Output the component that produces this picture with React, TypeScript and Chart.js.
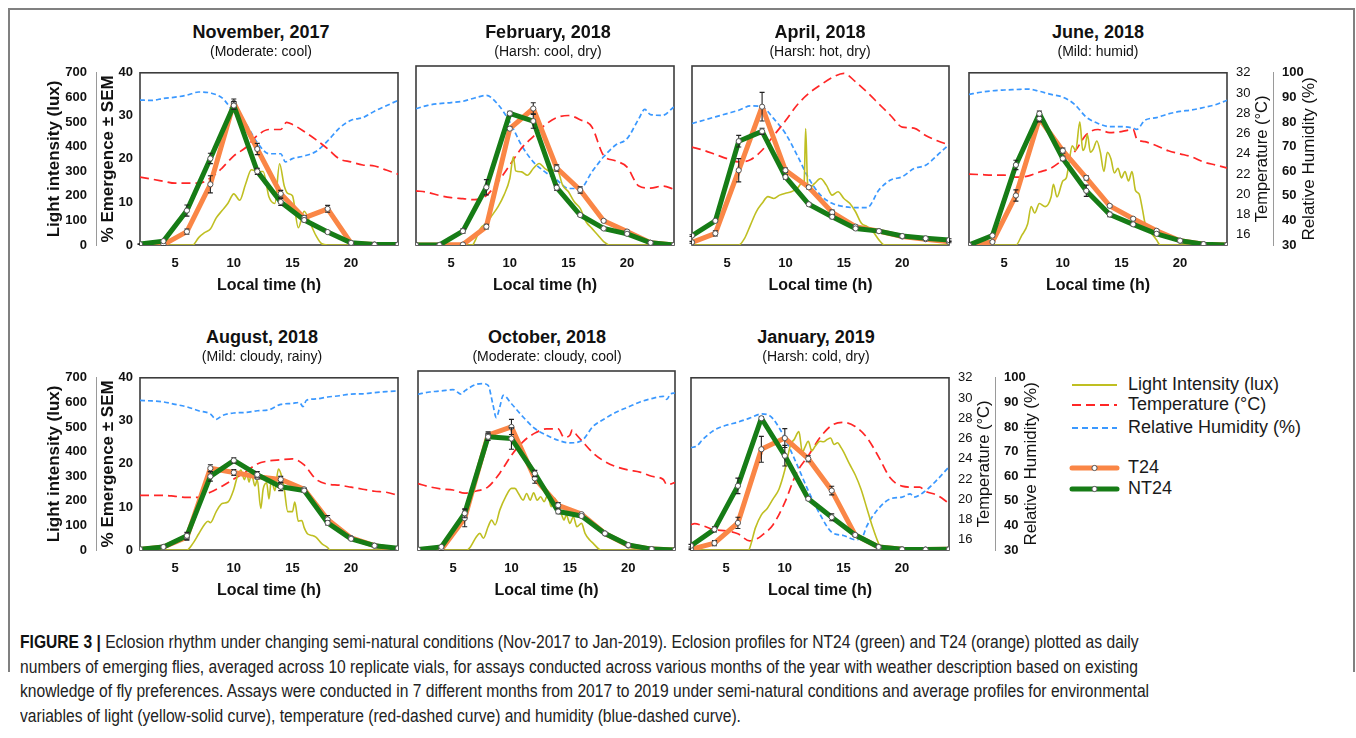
import React, { useEffect, useRef } from 'react';
import { Chart, registerables } from 'chart.js';

Chart.register(...registerables);

// ---------- shared axes values ----------
const EM_HOURS = [2, 4, 6, 8, 10, 12, 14, 16, 18, 20, 22, 24];
const HOURLY = [2, 3, 4, 5, 6, 7, 8, 9, 10, 11, 12, 13, 14, 15, 16, 17, 18, 19, 20, 21, 22, 23, 24];
const X_TICKS = [5, 10, 15, 20];
const TEMP_TICKS = [16, 18, 20, 22, 24, 26, 28, 30, 32];

// ---------- November 2017 ----------
const NOV17_T24 = [0, 0.1, 3.1, 14.1, 33.0, 22.3, 11.9, 6.3, 8.4, 0.4, 0.1, 0.1];
const NOV17_T24_SEM = [0, 0.2, 0.6, 2.0, 0.9, 1.3, 0.8, 0.5, 0.8, 0.2, 0, 0];
const NOV17_NT24 = [0.2, 0.9, 8.0, 20.1, 32.4, 17.1, 10.0, 5.8, 3.0, 0.5, 0.1, 0.1];
const NOV17_NT24_SEM = [0.1, 0.2, 1.3, 1.2, 0.9, 0.7, 0.8, 0.4, 0.2, 0.1, 0, 0];
const NOV17_LIGHT_H = [2, 6.5, 7, 7.5, 8, 8.5, 9, 9.5, 10, 10.5, 11, 11.5, 12, 12.5, 13, 13.5, 13.9, 14.3, 14.6, 15, 15.5, 16, 16.5, 17, 17.5, 18, 24];
const NOV17_LIGHT = [0, 0, 30, 50, 65, 110, 140, 170, 208, 182, 247, 306, 299, 299, 195, 169, 330, 240, 210, 200, 70, 137, 90, 39, 5, 0, 0];
const NOV17_TEMP_H = [2, 3, 4, 5, 6, 7, 8, 9, 10, 11, 12, 13, 14, 14.5, 15, 16, 17, 18, 19, 20, 21, 22, 23, 24];
const NOV17_TEMP = [21.7, 21.5, 21.3, 21.1, 21.1, 21.1, 21.6, 22.6, 23.8, 24.6, 25.8, 26.4, 26.4, 27.1, 26.9, 26.2, 25.4, 24.5, 23.5, 23.2, 22.9, 22.8, 22.4, 22.0];
const NOV17_RH_H = [2, 3, 4, 5, 6, 7, 8, 9, 10, 11, 12, 13, 14, 14.4, 15, 16, 17, 18, 19, 20, 21, 22, 23, 24];
const NOV17_RH = [88.9, 88.8, 89.6, 90.1, 90.9, 92.2, 91.8, 89.8, 84.0, 79.4, 71.6, 67.1, 67.1, 63.8, 65.1, 66.2, 68.0, 72.3, 77.5, 80.7, 81.8, 84.4, 86.6, 88.8];

// ---------- February 2018 ----------
const FEB18_T24 = [0, 0, 0.1, 4.1, 26.0, 30.5, 17.2, 12.3, 5.4, 3.0, 0.5, 0];
const FEB18_T24_SEM = [0, 0, 0.1, 0.5, 0.4, 1.3, 0.7, 0.7, 0.3, 0.3, 0.1, 0];
const FEB18_NT24 = [0, 0, 3.1, 12.9, 29.4, 27.7, 12.8, 6.7, 3.7, 2.5, 0.5, 0];
const FEB18_NT24_SEM = [0, 0, 0.5, 1.7, 0.5, 1.6, 0.6, 0.3, 0.2, 0.3, 0.1, 0];
const FEB18_LIGHT_H = [2, 6.8, 7, 7.5, 8, 8.5, 9, 9.5, 10, 10.3, 10.5, 11, 11.5, 12, 12.5, 13, 13.5, 14, 14.5, 15, 15.5, 16, 16.5, 17, 17.5, 18, 18.5, 24];
const FEB18_LIGHT = [0, 0, 13, 65, 85, 117, 150, 195, 260, 345, 290, 286, 273, 299, 319, 299, 286, 299, 234, 208, 169, 143, 91, 65, 39, 13, 0, 0];
const FEB18_TEMP = [20.15, 20.0, 19.7, 19.5, 19.4, 19.3, 19.7, 21.0, 22.6, 24.2, 25.3, 26.4, 27.1, 27.3, 26.9, 26.2, 23.5, 23.0, 22.4, 20.6, 20.4, 20.6, 20.3];
const FEB18_RH_H = [2, 3, 4, 5, 6, 7, 8, 9, 10, 11, 12, 13, 14, 15, 16, 17, 18, 19, 20, 21, 21.5, 22, 23, 24];
const FEB18_RH = [83.3, 84.6, 85.3, 85.7, 86.2, 87.5, 88.5, 84.9, 78.1, 69.0, 62.5, 58.6, 55.4, 52.1, 52.1, 58.6, 64.5, 69.0, 71.6, 79.4, 83.0, 81.0, 80.7, 84.0];

// ---------- April 2018 ----------
const APR18_T24 = [0.6, 2.6, 16.7, 30.9, 16.7, 12.9, 7.3, 4.1, 3.1, 1.9, 1.3, 0.7];
const APR18_T24_SEM = [0.2, 0.6, 2.6, 3.2, 0.5, 0.4, 0.5, 0.3, 0.3, 0.3, 0.2, 0.2];
const APR18_NT24 = [2.1, 5.4, 23.2, 25.4, 15.2, 9.1, 6.3, 3.7, 3.1, 2.0, 1.5, 1.1];
const APR18_NT24_SEM = [0.2, 0.2, 1.3, 0.7, 0.5, 0.3, 0.4, 0.3, 0.3, 0.3, 0.3, 0.3];
const APR18_LIGHT_H = [2, 6, 6.5, 7, 7.5, 8, 8.5, 9, 9.5, 10, 10.5, 11, 11.5, 11.6, 11.73, 11.88, 12, 12.5, 13, 13.5, 14, 14.5, 15, 15.5, 16, 16.5, 17, 17.5, 18, 18.5, 24];
const APR18_LIGHT = [0, 0, 26, 78, 130, 163, 189, 182, 195, 202, 208, 221, 247, 250, 455, 250, 221, 241, 260, 234, 195, 208, 182, 163, 130, 85, 72, 52, 20, 0, 0];
const APR18_TEMP = [24.3, 24.0, 23.6, 23.2, 22.9, 23.1, 24.0, 25.4, 26.8, 28.3, 29.4, 30.2, 30.9, 31.3, 30.5, 29.5, 28.4, 27.3, 26.2, 26.1, 25.4, 24.9, 24.5];
const APR18_RH = [77.5, 78.8, 80.1, 81.4, 82.7, 84.4, 84.0, 79.4, 73.6, 65.1, 56.0, 49.5, 46.3, 45.0, 44.6, 44.6, 51.5, 55.4, 56.7, 59.9, 61.2, 65.1, 69.3];

// ---------- June 2018 ----------
const JUN18_T24 = [0, 0.7, 11.5, 29.4, 21.9, 15.6, 9.1, 6.1, 3.3, 1.0, 0.2, 0];
const JUN18_T24_SEM = [0, 0.3, 1.3, 0.8, 0.6, 0.5, 0.3, 0.3, 0.3, 0.1, 0, 0];
const JUN18_NT24 = [0, 2.2, 18.6, 30.5, 20.1, 12.6, 7.1, 4.8, 2.6, 1.0, 0.2, 0];
const JUN18_NT24_SEM = [0, 0.3, 1.1, 0.6, 0.5, 1.3, 0.5, 0.3, 0.3, 0.1, 0, 0];
const JUN18_LIGHT_H = [2, 6, 6.5, 7, 7.3, 7.6, 8, 8.5, 9, 9.2, 9.5, 10, 10.3, 10.5, 10.8, 11.1, 11.45, 11.7, 11.9, 12.1, 12.35, 12.6, 12.9, 13.2, 13.5, 13.8, 14.1, 14.4, 14.7, 15, 15.3, 15.6, 15.9, 16.2, 16.5, 16.8, 17, 17.5, 18, 18.3, 24];
const JUN18_LIGHT = [0, 0, 39, 85, 156, 130, 169, 156, 195, 247, 195, 260, 273, 325, 403, 384, 501, 384, 400, 449, 377, 390, 423, 377, 299, 377, 351, 293, 312, 273, 299, 260, 299, 221, 208, 143, 91, 52, 20, 0, 0];
const JUN18_TEMP_H = [2, 3, 4, 5, 6, 7, 8, 9, 10, 11, 12, 13, 14, 15, 16, 16.3, 17, 18, 19, 20, 21, 22, 23, 24];
const JUN18_TEMP = [22.0, 21.95, 21.9, 21.9, 21.7, 21.8, 22.2, 22.6, 23.4, 24.2, 25.9, 26.4, 26.1, 26.2, 26.4, 25.5, 25.2, 24.8, 24.3, 24.0, 23.7, 23.2, 22.9, 22.6];
const JUN18_RH_H = [2, 3, 4, 5, 6, 7, 8, 9, 10, 11, 12, 13, 14, 15, 16, 16.3, 17, 18, 19, 20, 21, 22, 23, 24];
const JUN18_RH = [91.2, 92.1, 92.7, 93.0, 93.2, 93.4, 92.5, 91.2, 90.1, 87.2, 82.0, 79.4, 78.1, 78.1, 77.5, 77.0, 80.7, 81.8, 83.3, 84.3, 84.9, 85.9, 87.0, 88.8];

// ---------- August 2018 ----------
const AUG18_T24 = [0.1, 0.7, 3.0, 19.0, 18.0, 17.0, 16.4, 14.1, 7.1, 2.8, 1.0, 0.1];
const AUG18_T24_SEM = [0, 0.1, 0.7, 0.8, 0.7, 0.5, 0.7, 0.3, 0.9, 0.2, 0.1, 0];
const AUG18_NT24 = [0.2, 0.7, 3.3, 17.1, 20.8, 17.5, 14.7, 13.8, 6.3, 2.6, 1.0, 0.4];
const AUG18_NT24_SEM = [0, 0.1, 0.8, 1.1, 0.6, 0.7, 0.9, 0.4, 0.5, 0.2, 0.1, 0];
const AUG18_LIGHT_H = [2, 6, 6.5, 7, 7.5, 7.8, 8, 8.5, 9, 9.5, 10, 10.3, 10.6, 10.9, 11.1, 11.3, 11.5, 11.8, 12, 12.3, 12.5, 12.8, 13, 13.2, 13.5, 13.8, 14, 14.3, 14.6, 15, 15.2, 15.5, 15.8, 16, 16.3, 16.7, 17, 17.5, 18, 18.2, 24];
const AUG18_LIGHT = [0, 0, 26, 65, 104, 117, 111, 156, 189, 195, 247, 299, 325, 286, 312, 276, 312, 260, 286, 169, 247, 273, 208, 286, 241, 329, 312, 247, 156, 156, 195, 117, 120, 91, 65, 59, 52, 26, 10, 0, 0];
const AUG18_TEMP = [20.4, 20.4, 20.4, 20.3, 20.2, 20.2, 20.7, 21.3, 22.0, 22.7, 23.5, 23.8, 23.9, 24.0, 23.4, 22.0, 21.5, 21.4, 21.2, 21.0, 20.8, 20.7, 20.4];
const AUG18_RH_H = [2, 3, 4, 5, 6, 7, 8, 8.5, 9, 10, 11, 12, 13, 14, 15, 15.6, 15.9, 16.2, 17, 18, 19, 20, 21, 22, 23, 24];
const AUG18_RH = [90.8, 90.6, 90.2, 89.2, 88.2, 86.6, 85.3, 83.1, 84.6, 85.7, 85.9, 86.6, 87.0, 89.2, 89.6, 90.0, 88.3, 90.9, 91.4, 92.2, 92.7, 93.4, 93.5, 94.0, 94.4, 94.7];

// ---------- October 2018 ----------
const OCT18_T24 = [0, 0.1, 7.1, 25.7, 27.5, 16.0, 10.0, 8.0, 3.7, 1.0, 0.2, 0];
const OCT18_T24_SEM = [0, 0.1, 1.9, 0.7, 1.7, 1.1, 0.6, 0.3, 0.2, 0.1, 0, 0];
const OCT18_NT24 = [0.1, 0.7, 8.2, 25.3, 24.9, 17.1, 8.6, 7.6, 3.7, 1.1, 0.2, 0];
const OCT18_NT24_SEM = [0, 0.1, 1.0, 0.8, 2.4, 0.7, 0.5, 0.3, 0.2, 0.1, 0, 0];
const OCT18_LIGHT_H = [2, 6.2, 6.5, 7, 7.3, 7.6, 8, 8.3, 8.6, 9, 9.5, 10, 10.3, 10.6, 11, 11.3, 11.6, 11.9, 12.2, 12.5, 12.8, 13.1, 13.4, 13.7, 14, 14.3, 14.5, 14.7, 15, 15.3, 15.6, 16, 16.3, 16.7, 17, 17.5, 17.7, 24];
const OCT18_LIGHT = [0, 0, 13, 52, 65, 46, 91, 117, 98, 156, 208, 241, 241, 221, 195, 221, 195, 224, 195, 208, 189, 215, 169, 202, 169, 137, 117, 137, 104, 130, 91, 104, 65, 39, 26, 3, 0, 0];
const OCT18_TEMP_H = [2, 3, 4, 5, 6, 7, 8, 9, 10, 11, 12, 13, 14, 14.5, 15, 15.2, 15.6, 16, 17, 18, 19, 20, 21, 22, 23, 23.3, 24];
const OCT18_TEMP = [21.3, 21.0, 20.8, 20.7, 20.4, 20.6, 21.0, 22.3, 24.0, 25.3, 26.1, 26.5, 26.5, 25.7, 25.9, 26.4, 25.9, 25.4, 24.2, 23.4, 22.9, 22.6, 22.4, 22.0, 21.7, 21.2, 21.4];
const OCT18_RH_H = [2, 3, 4, 5, 5.7, 6, 7, 7.5, 8, 8.4, 8.7, 9, 9.3, 10, 11, 12, 13, 14, 15, 16, 17, 18, 19, 20, 21, 22, 23, 23.3, 23.6, 24];
const OCT18_RH = [90.9, 91.8, 92.2, 92.7, 90.9, 92.2, 94.8, 95.1, 94.4, 87.2, 81.8, 85.9, 90.5, 87.2, 82.0, 77.5, 74.9, 72.9, 71.9, 72.7, 78.4, 81.4, 84.0, 85.9, 87.9, 89.2, 90.1, 88.9, 91.0, 91.4];

// ---------- January 2019 ----------
const JAN19_T24 = [0.15, 1.6, 6.3, 23.4, 26.0, 21.2, 13.8, 3.5, 0.7, 0.15, 0.1, 0.15];
const JAN19_T24_SEM = [0.1, 0.6, 1.3, 3.0, 2.2, 0.7, 1.0, 0.3, 0.1, 0, 0, 0];
const JAN19_NT24 = [1.0, 4.8, 14.9, 30.6, 21.9, 11.9, 7.6, 3.5, 0.7, 0.15, 0.1, 0.15];
const JAN19_NT24_SEM = [0.3, 0.6, 1.8, 0.4, 2.4, 0.4, 0.8, 0.3, 0.1, 0, 0, 0];
const JAN19_LIGHT_H = [2, 6.9, 7, 7.5, 8, 8.5, 9, 9.5, 10, 10.5, 10.8, 11.2, 11.5, 11.7, 12, 12.3, 12.6, 13, 13.3, 13.6, 13.9, 14.2, 14.5, 14.8, 15, 15.5, 16, 16.5, 17, 17.5, 18, 18.3, 24];
const JAN19_LIGHT = [0, 0, 7, 91, 143, 169, 208, 247, 325, 429, 449, 481, 397, 416, 442, 403, 423, 442, 440, 449, 455, 429, 436, 416, 400, 351, 306, 247, 169, 91, 26, 0, 0];
const JAN19_TEMP_H = [2, 2.3, 3, 4, 5, 6, 7, 7.6, 8, 9, 10, 11, 12, 13, 14, 15, 16, 17, 18, 19, 20, 21, 21.5, 22, 23, 24];
const JAN19_TEMP = [17.5, 17.6, 17.4, 17.0, 16.9, 16.6, 15.9, 16.1, 16.4, 17.5, 19.7, 22.6, 24.3, 26.1, 27.3, 27.6, 27.2, 26.1, 24.2, 22.1, 21.3, 21.2, 21.2, 20.8, 20.4, 19.6];
const JAN19_RH_H = [2, 2.5, 3, 4, 5, 6, 7, 8, 8.6, 9, 10, 11, 12, 13, 14, 15, 16, 16.6, 17, 18, 19, 20, 20.7, 21, 22, 23, 24];
const JAN19_RH = [71.6, 72.3, 74.9, 78.8, 80.7, 82.0, 83.6, 85.3, 84.9, 83.3, 75.5, 65.1, 54.1, 44.5, 37.2, 35.9, 34.2, 35.2, 39.8, 46.9, 50.8, 51.5, 52.8, 51.5, 54.1, 58.6, 63.8];

// ---------- styling ----------
const FONT = 'Arial, "Liberation Sans", Helvetica, sans-serif';
const ORANGE = '#FA8646';
const GREEN = '#167C16';
const YELLOW = '#BFBF22';
const RED = '#FF2626';
const BLUE = '#3A98FF';
const TEXT = '#111111';

const PLOT_H = 179;
const PAD = 10;
const X_AXIS_H = 51;
const LUX_W = 52;
const EM_W = 44;
const TEMP_W = 46;
const RH_W = 52;

type Panel = {
  title: string;
  subtitle: string;
  t24: number[]; t24Sem: number[]; nt24: number[]; nt24Sem: number[];
  lightH: number[]; light: number[];
  tempH: number[]; temp: number[];
  rhH: number[]; rh: number[];
  plotLeft: number; plotTop: number; plotW: number;
  titleX: number; titleY: number;
  showLeft: boolean; showRight: boolean;
};

const PANELS: Panel[] = [
  { title: 'November, 2017', subtitle: '(Moderate: cool)', t24: NOV17_T24, t24Sem: NOV17_T24_SEM, nt24: NOV17_NT24, nt24Sem: NOV17_NT24_SEM,
    lightH: NOV17_LIGHT_H, light: NOV17_LIGHT, tempH: NOV17_TEMP_H, temp: NOV17_TEMP, rhH: NOV17_RH_H, rh: NOV17_RH,
    plotLeft: 140, plotTop: 66, plotW: 258, titleX: 261, titleY: 32, showLeft: true, showRight: false },
  { title: 'February, 2018', subtitle: '(Harsh: cool, dry)', t24: FEB18_T24, t24Sem: FEB18_T24_SEM, nt24: FEB18_NT24, nt24Sem: FEB18_NT24_SEM,
    lightH: FEB18_LIGHT_H, light: FEB18_LIGHT, tempH: HOURLY, temp: FEB18_TEMP, rhH: FEB18_RH_H, rh: FEB18_RH,
    plotLeft: 416, plotTop: 66, plotW: 258, titleX: 548, titleY: 32, showLeft: false, showRight: false },
  { title: 'April, 2018', subtitle: '(Harsh: hot, dry)', t24: APR18_T24, t24Sem: APR18_T24_SEM, nt24: APR18_NT24, nt24Sem: APR18_NT24_SEM,
    lightH: APR18_LIGHT_H, light: APR18_LIGHT, tempH: HOURLY, temp: APR18_TEMP, rhH: HOURLY, rh: APR18_RH,
    plotLeft: 692, plotTop: 66, plotW: 257, titleX: 820, titleY: 32, showLeft: false, showRight: false },
  { title: 'June, 2018', subtitle: '(Mild: humid)', t24: JUN18_T24, t24Sem: JUN18_T24_SEM, nt24: JUN18_NT24, nt24Sem: JUN18_NT24_SEM,
    lightH: JUN18_LIGHT_H, light: JUN18_LIGHT, tempH: JUN18_TEMP_H, temp: JUN18_TEMP, rhH: JUN18_RH_H, rh: JUN18_RH,
    plotLeft: 969, plotTop: 66, plotW: 258, titleX: 1098, titleY: 32, showLeft: false, showRight: true },
  { title: 'August, 2018', subtitle: '(Mild: cloudy, rainy)', t24: AUG18_T24, t24Sem: AUG18_T24_SEM, nt24: AUG18_NT24, nt24Sem: AUG18_NT24_SEM,
    lightH: AUG18_LIGHT_H, light: AUG18_LIGHT, tempH: HOURLY, temp: AUG18_TEMP, rhH: AUG18_RH_H, rh: AUG18_RH,
    plotLeft: 140, plotTop: 371, plotW: 258, titleX: 262, titleY: 337, showLeft: true, showRight: false },
  { title: 'October, 2018', subtitle: '(Moderate: cloudy, cool)', t24: OCT18_T24, t24Sem: OCT18_T24_SEM, nt24: OCT18_NT24, nt24Sem: OCT18_NT24_SEM,
    lightH: OCT18_LIGHT_H, light: OCT18_LIGHT, tempH: OCT18_TEMP_H, temp: OCT18_TEMP, rhH: OCT18_RH_H, rh: OCT18_RH,
    plotLeft: 418, plotTop: 371, plotW: 257, titleX: 547, titleY: 337, showLeft: false, showRight: false },
  { title: 'January, 2019', subtitle: '(Harsh: cold, dry)', t24: JAN19_T24, t24Sem: JAN19_T24_SEM, nt24: JAN19_NT24, nt24Sem: JAN19_NT24_SEM,
    lightH: JAN19_LIGHT_H, light: JAN19_LIGHT, tempH: JAN19_TEMP_H, temp: JAN19_TEMP, rhH: JAN19_RH_H, rh: JAN19_RH,
    plotLeft: 691, plotTop: 371, plotW: 258, titleX: 816, titleY: 337, showLeft: false, showRight: true },
];

const pts = (xs: number[], ys: number[]) => xs.map((x, i) => ({ x, y: ys[i] }));

// ---------- plugins ----------
const errorBarPlugin = {
  id: 'errorBars',
  beforeDatasetDraw(chart: any, args: any) {
    const ds = chart.data.datasets[args.index];
    if (!ds.errorBars) return;
    const meta = args.meta;
    const yScale = chart.scales[ds.yAxisID];
    const ctx = chart.ctx;
    ctx.save();
    ctx.strokeStyle = '#222';
    ctx.lineWidth = 1.1;
    ds.data.forEach((p: any, i: number) => {
      const sem = ds.errorBars[i];
      if (!sem) return;
      const x = meta.data[i].x;
      const y1 = yScale.getPixelForValue(p.y + sem);
      const y2 = yScale.getPixelForValue(Math.max(p.y - sem, 0));
      ctx.beginPath();
      ctx.moveTo(x, y1); ctx.lineTo(x, y2);
      ctx.moveTo(x - 2.5, y1); ctx.lineTo(x + 2.5, y1);
      ctx.moveTo(x - 2.5, y2); ctx.lineTo(x + 2.5, y2);
      ctx.stroke();
    });
    ctx.restore();
  },
};

const framePlugin = {
  id: 'plotFrame',
  beforeDatasetsDraw(chart: any) {
    const { ctx, chartArea: a } = chart;
    ctx.save();
    ctx.strokeStyle = '#3c3c3c';
    ctx.lineWidth = 1.6;
    ctx.strokeRect(a.left, a.top, a.right - a.left, a.bottom - a.top);
    ctx.restore();
  },
};

const rightTitlePlugin = {
  id: 'rightTitles',
  afterDraw(chart: any, _args: any, opts: any) {
    const items = (opts && opts.items) || [];
    const ctx = chart.ctx;
    const a = chart.chartArea;
    for (const it of items) {
      const s = chart.scales[it.axis];
      if (!s) continue;
      ctx.save();
      ctx.translate(s.left + it.offset, (a.top + a.bottom) / 2);
      ctx.rotate(-Math.PI / 2);
      ctx.font = `${it.size}px ${FONT}`;
      ctx.fillStyle = TEXT;
      ctx.textAlign = 'center';
      ctx.textBaseline = 'middle';
      ctx.fillText(it.text, 0, 0);
      ctx.restore();
    }
  },
};

const fixWidth = (w: number) => (s: any) => { s.width = s.options.display ? w : 0; };

function buildConfig(p: Panel): any {
  const tickFont = { family: FONT, size: 13, weight: 'bold' as const };
  return {
    type: 'line',
    data: {
      datasets: [
        { label: 'NT24 points', data: pts(EM_HOURS, p.nt24), errorBars: p.nt24Sem, yAxisID: 'yEm', showLine: false,
          pointRadius: 2.6, pointBackgroundColor: '#ffffff', pointBorderColor: '#555', pointBorderWidth: 1, order: -2 },
        { label: 'T24 points', data: pts(EM_HOURS, p.t24), errorBars: p.t24Sem, yAxisID: 'yEm', showLine: false,
          pointRadius: 2.6, pointBackgroundColor: '#ffffff', pointBorderColor: '#555', pointBorderWidth: 1, order: -1 },
        { label: 'NT24', data: pts(EM_HOURS, p.nt24), yAxisID: 'yEm', borderColor: GREEN, borderWidth: 5,
          borderJoinStyle: 'round', pointRadius: 0, tension: 0, order: 0 },
        { label: 'T24', data: pts(EM_HOURS, p.t24), yAxisID: 'yEm', borderColor: ORANGE, borderWidth: 5,
          borderJoinStyle: 'round', pointRadius: 0, tension: 0, order: 1 },
        { label: 'Light Intensity (lux)', data: pts(p.lightH, p.light), yAxisID: 'yLux', borderColor: YELLOW, borderWidth: 1.6,
          pointRadius: 0, cubicInterpolationMode: 'monotone', order: 2 },
        { label: 'Temperature (°C)', data: pts(p.tempH, p.temp), yAxisID: 'yTemp', borderColor: RED, borderWidth: 1.7,
          borderDash: [9, 5], pointRadius: 0, cubicInterpolationMode: 'monotone', order: 3 },
        { label: 'Relative Humidity (%)', data: pts(p.rhH, p.rh), yAxisID: 'yRH', borderColor: BLUE, borderWidth: 1.7,
          borderDash: [5, 3], pointRadius: 0, cubicInterpolationMode: 'monotone', order: 4 },
      ],
    },
    options: {
      animation: false,
      responsive: false,
      maintainAspectRatio: false,
      events: [],
      layout: { padding: { left: p.showLeft ? 0 : PAD, right: p.showRight ? 0 : PAD, top: PAD, bottom: 0 } },
      plugins: {
        legend: { display: false },
        tooltip: { enabled: false },
        rightTitles: {
          items: p.showRight ? [
            { axis: 'yTemp', text: 'Temperature (°C)', offset: 35, size: 16.5 },
            { axis: 'yRH', text: 'Relative Humidity (%)', offset: 36, size: 17 },
          ] : [],
        },
      },
      scales: {
        x: {
          type: 'linear', position: 'bottom', min: 2, max: 24,
          afterBuildTicks: (s: any) => { s.ticks = X_TICKS.map((v) => ({ value: v })); },
          afterFit: (s: any) => { s.height = X_AXIS_H; },
          grid: { display: false, drawTicks: false },
          border: { display: false },
          ticks: { font: tickFont, color: TEXT, padding: 11, maxRotation: 0, autoSkip: false },
          title: { display: true, text: 'Local time (h)', color: TEXT, font: { family: FONT, size: 16, weight: 'bold' }, padding: { top: 0, bottom: 1 } },
        },
        yEm: {
          type: 'linear', position: 'left', weight: 0, min: 0, max: 40, display: p.showLeft,
          afterFit: fixWidth(EM_W),
          grid: { display: false, drawTicks: false },
          border: { display: false },
          ticks: { stepSize: 10, font: tickFont, color: TEXT, padding: 7 },
          title: { display: true, text: '% Emergence ± SEM', color: TEXT, font: { family: FONT, size: 17, weight: 'bold' }, padding: { top: 2, bottom: 0 } },
        },
        yLux: {
          type: 'linear', position: 'left', weight: 1, min: 0, max: 700, display: p.showLeft,
          afterFit: fixWidth(LUX_W),
          grid: { display: false, drawTicks: false },
          border: { display: true, color: '#9a9a9a', width: 1 },
          ticks: { stepSize: 100, font: tickFont, color: TEXT, padding: 9 },
          title: { display: true, text: 'Light intensity (lux)', color: TEXT, font: { family: FONT, size: 17, weight: 'bold' }, padding: { top: 0, bottom: 0 } },
        },
        yTemp: {
          type: 'linear', position: 'right', weight: 0, min: 15, max: 32, display: p.showRight,
          afterBuildTicks: (s: any) => { s.ticks = TEMP_TICKS.map((v) => ({ value: v })); },
          afterFit: fixWidth(TEMP_W),
          grid: { display: false, drawTicks: false },
          border: { display: false },
          ticks: { font: { family: FONT, size: 13 }, color: TEXT, padding: 9 },
        },
        yRH: {
          type: 'linear', position: 'right', weight: 1, min: 30, max: 100, display: p.showRight,
          afterFit: fixWidth(RH_W),
          grid: { display: false, drawTicks: false },
          border: { display: true, color: '#9a9a9a', width: 1 },
          ticks: { stepSize: 10, font: tickFont, color: TEXT, padding: 9 },
        },
      },
    },
    plugins: [framePlugin, errorBarPlugin, rightTitlePlugin],
  };
}

function PanelChart({ p }: { p: Panel }) {
  const ref = useRef<HTMLCanvasElement | null>(null);
  const leftW = p.showLeft ? LUX_W + EM_W : PAD;
  const rightW = p.showRight ? TEMP_W + RH_W : PAD;
  const width = leftW + p.plotW + rightW;
  const height = PAD + PLOT_H + X_AXIS_H;
  useEffect(() => {
    if (!ref.current) return;
    const chart = new Chart(ref.current, buildConfig(p));
    return () => chart.destroy();
  }, [p]);
  return (
    <>
      <canvas
        ref={ref}
        width={width}
        height={height}
        style={{ position: 'absolute', left: p.plotLeft - leftW, top: p.plotTop - PAD, width, height }}
      />
      <div style={{ position: 'absolute', left: p.titleX, top: p.titleY, transform: 'translate(-50%, -50%)', whiteSpace: 'nowrap',
        font: `bold 18px ${FONT}`, color: TEXT }}>{p.title}</div>
      <div style={{ position: 'absolute', left: p.titleX, top: p.titleY + 19, transform: 'translate(-50%, -50%)', whiteSpace: 'nowrap',
        font: `14px ${FONT}`, color: TEXT }}>{p.subtitle}</div>
    </>
  );
}

const LEGEND_ITEMS = [
  { label: 'Light Intensity (lux)', color: YELLOW, width: 2, dash: '', marker: false, y: 15 },
  { label: 'Temperature (°C)', color: RED, width: 2, dash: '9 5', marker: false, y: 35 },
  { label: 'Relative Humidity (%)', color: BLUE, width: 2, dash: '6 4', marker: false, y: 58 },
  { label: 'T24', color: ORANGE, width: 5, dash: '', marker: true, y: 98 },
  { label: 'NT24', color: GREEN, width: 5, dash: '', marker: true, y: 119 },
];

const CAPTION_LEAD = 'FIGURE 3 | ';
const CAPTION_LINES = [
  'Eclosion rhythm under changing semi-natural conditions (Nov-2017 to Jan-2019). Eclosion profiles for NT24 (green) and T24 (orange) plotted as daily',
  'numbers of emerging flies, averaged across 10 replicate vials, for assays conducted across various months of the year with weather description based on existing',
  'knowledge of fly preferences. Assays were conducted in 7 different months from 2017 to 2019 under semi-natural conditions and average profiles for environmental',
  'variables of light (yellow-solid curve), temperature (red-dashed curve) and humidity (blue-dashed curve).',
];
const CAPTION_SIZE = 17.5;
const CAPTION_FONT = '"Liberation Sans", Arial, sans-serif';
const CAPTION_LINE2_WIDTH = 1118;

function captionScale(): number {
  try {
    const ctx = document.createElement('canvas').getContext('2d');
    if (!ctx) return 0.82;
    ctx.font = `${CAPTION_SIZE}px ${CAPTION_FONT}`;
    const w = ctx.measureText(CAPTION_LINES[1]).width;
    return w > 0 ? CAPTION_LINE2_WIDTH / w : 0.82;
  } catch {
    return 0.82;
  }
}

export default function App() {
  const sx = captionScale();
  return (
    <div style={{ position: 'absolute', left: 0, top: 0, width: 1356, height: 738, background: '#fff', overflow: 'hidden' }}>
      <div style={{ position: 'absolute', left: 8, top: 8, width: 1343, height: 662, borderTop: '2px solid #808080',
        borderLeft: '2px solid #808080', borderRight: '2px solid #808080' }} />
      {PANELS.map((p) => <PanelChart key={p.title} p={p} />)}
      <svg style={{ position: 'absolute', left: 1060, top: 370 }} width={290} height={135}>
        {LEGEND_ITEMS.map((it) => (
          <g key={it.label}>
            <line x1={12} x2={57} y1={it.y} y2={it.y} stroke={it.color} strokeWidth={it.width}
              strokeDasharray={it.dash || undefined} strokeLinecap={it.marker ? 'round' : 'butt'} />
            {it.marker && <circle cx={34.5} cy={it.y} r={2.6} fill="#fff" stroke="#555" strokeWidth={1} />}
            <text x={68} y={it.y} dominantBaseline="middle" fontFamily={FONT} fontSize={18} fill="#1a1a1a">{it.label}</text>
          </g>
        ))}
      </svg>
      <div style={{ position: 'absolute', left: 20, top: 630, fontFamily: CAPTION_FONT, fontSize: CAPTION_SIZE, color: '#222',
        lineHeight: '24.5px', transform: `scaleX(${sx})`, transformOrigin: '0 0' }}>
        {CAPTION_LINES.map((line, i) => (
          <div key={i} style={{ whiteSpace: 'nowrap' }}>
            {i === 0 && <b style={{ color: '#111' }}>{CAPTION_LEAD}</b>}
            {line}
          </div>
        ))}
      </div>
    </div>
  );
}
